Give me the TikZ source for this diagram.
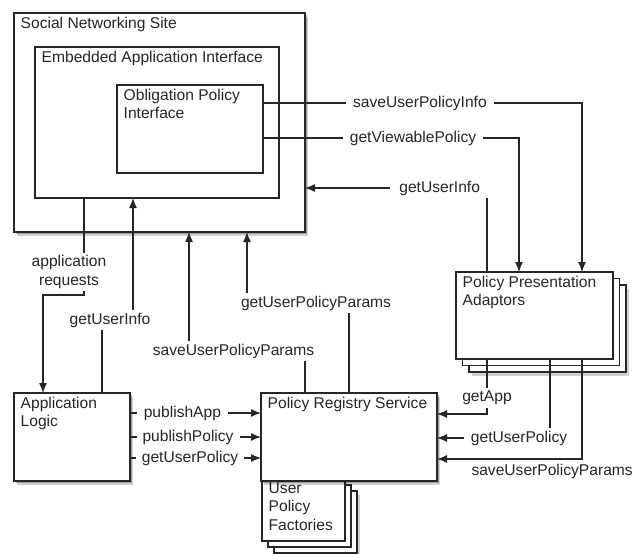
\documentclass[tikz,border=0pt]{standalone}
\usepackage{fontspec}
\setmainfont{Liberation Sans}
\usepackage{tikz}
\usetikzlibrary{arrows.meta}
\tikzset{>={Latex[length=10,width=8]}}
\usetikzlibrary{calc,shadows}
\usepackage{xcolor}
\colorlet{mydarkgray}{black!85}

\begin{document}
\begin{tikzpicture}[x=1pt,y=-1pt,font=\fontsize{15.6}{18.3}\selectfont,
    arrow/.style={->,mydarkgray,line width=1.2},
    box/.style={draw=mydarkgray,fill=white,line width=1.3,anchor=north west,inner sep=0,outer sep=0},
    title/.style={anchor=north west,inner xsep=6.5,inner ysep=3.5,align=left,text=mydarkgray},
    lbl/.style={fill=white,inner xsep=7,inner ysep=3,text=mydarkgray},
    shade/.style={drop shadow={shadow xshift=3pt,shadow yshift=-4pt,opacity=0.18,fill=black,draw=none},
                  drop shadow={shadow xshift=1.5pt,shadow yshift=-2pt,opacity=0.25,fill=black,draw=none}},
    stackshade/.style={drop shadow={shadow xshift=#1+3pt,shadow yshift=-#1-4pt,opacity=0.18,fill=black,draw=none},
                  copy shadow={shadow xshift=#1,shadow yshift=-#1},
                  copy shadow={shadow xshift=#1/2,shadow yshift=-#1/2}}]
    \message{Obligation policy architecture^^J}
    \useasboundingbox (0,0) rectangle (640,554);

    \node[box,shade,minimum width=291,minimum height=219,label={[title]north west:Social Networking Site}] (sns) at (14,13) {};
    \node[box,minimum width=244,minimum height=151,label={[title]north west:Embedded Application Interface}] (eai) at (35,47) {};
    \node[box,minimum width=146,minimum height=88,label={[title]north west:{Obligation Policy\\Interface}}] (opi) at (117,85) {};

    \node[box,stackshade=13pt,minimum width=157,minimum height=87,label={[title]north west:{Policy Presentation\\Adaptors}}] (ppa) at (456,272) {};
    \node[box,stackshade=12pt,minimum width=83,minimum height=62,label={[title]north west:{User\\Policy\\Factories}}] (upf) at (262,479) {};
    \node[box,shade,minimum width=176,minimum height=88,label={[title]north west:Policy Registry Service}] (prs) at (261,393) {};
    \node[box,shade,minimum width=116,minimum height=88,label={[title]north west:{Application\\Logic}}] (al) at (14,393) {};

    % to and from the policy presentation adaptors
    \draw[arrow] ($(opi.north east)+(0,18)$) -| ($(ppa.north west)+(126,0)$) node[lbl,pos=0.246] {saveUserPolicyInfo};
    \draw[arrow] ($(opi.north east)+(0,53)$) -| ($(ppa.north west)+(63,0)$) node[lbl,pos=0.293] {getViewablePolicy};
    \draw[arrow] ($(ppa.north west)+(31,0)$) |- ($(sns.south east)+(0,-44)$) node[lbl,inner xsep=9,pos=0.63] {getUserInfo};

    \draw[arrow] ($(ppa.south west)+(31,0)$) |- ($(prs.north east)+(0,21)$) node[lbl,pos=0.355] {getApp};
    \draw[arrow] ($(ppa.south west)+(94,0)$) |- ($(prs.north east)+(0,45)$) node[lbl,pos=0.637] {getUserPolicy};
    \draw[arrow] ($(ppa.south west)+(126,0)$) |- ($(prs.north east)+(0,66)$) node[below=1pt,pos=0.603,text=mydarkgray] {saveUserPolicyParams};

    % application logic
    \draw[arrow] ($(al.north east)+(0,20)$) -- ($(prs.north west)+(0,20)$) node[lbl,pos=0.4] {publishApp};
    \draw[arrow] ($(al.north east)+(0,44)$) -- ($(prs.north west)+(0,44)$) node[lbl,inner xsep=6,pos=0.443] {publishPolicy};
    \draw[arrow] ($(al.north east)+(0,65)$) -- ($(prs.north west)+(0,65)$) node[lbl,inner xsep=6,pos=0.458] {getUserPolicy};

    \draw[arrow] ($(eai.south west)+(49,0)$) -- node[lbl,pos=0.763,xshift=-15pt,align=center] {application\\requests} ++(0,97) -| ($(al.north west)+(29,0)$);
    \draw[arrow] ($(al.north west)+(88,0)$) -- ++(0,-73) node[lbl,xshift=8pt] {getUserInfo} -| ($(eai.south west)+(98,0)$);

    % policy registry service
    \draw[arrow] ($(prs.north west)+(44,0)$) -- ++(0,-42) node[lbl,xshift=-71.5pt] {saveUserPolicyParams} -| ($(sns.south west)+(175,0)$);
    \draw[arrow] ($(prs.north west)+(88,0)$) -- ++(0,-90) node[lbl,xshift=-33pt] {getUserPolicyParams} -| ($(sns.south west)+(233,0)$);

\end{tikzpicture}
\end{document}
